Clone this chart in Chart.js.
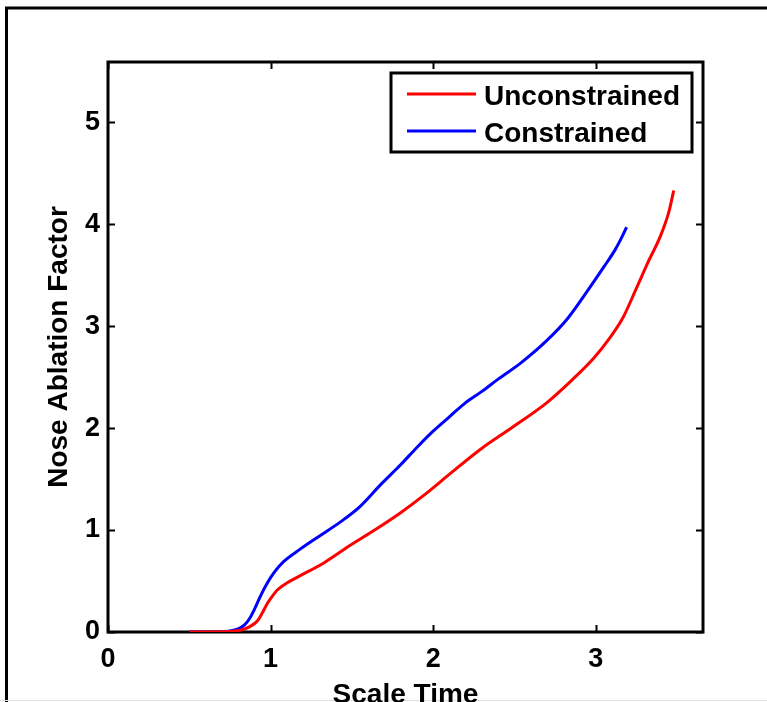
<!DOCTYPE html>
<html>
<head>
<meta charset="utf-8">
<script src="https://cdn.jsdelivr.net/npm/chart.js@4/dist/chart.umd.min.js"></script>
<style>
  html, body { margin: 0; padding: 0; background: #fff; overflow: hidden; }
  #wrap { width: 767px; height: 702px; }
</style>
</head>
<body>
<div id="wrap"><canvas id="ablation-chart" width="767" height="702"></canvas></div>
<script>
// values
var seriesNames = ["Unconstrained", "Constrained"];
var seriesColors = ["#ff0000", "#0000ff"];

var unconTime = [0.50, 0.75, 0.82, 0.87, 0.92, 0.95, 0.98, 1.01, 1.04, 1.10, 1.18, 1.33, 1.49, 1.65, 1.80, 1.95, 2.11, 2.29, 2.49, 2.70, 2.86, 2.99, 3.08, 3.17, 3.25, 3.32, 3.40, 3.45, 3.48];
var unconAbl  = [0.00, 0.005, 0.02, 0.05, 0.11, 0.19, 0.28, 0.35, 0.41, 0.48, 0.55, 0.68, 0.85, 1.01, 1.17, 1.35, 1.56, 1.79, 2.01, 2.25, 2.48, 2.69, 2.87, 3.09, 3.37, 3.62, 3.89, 4.12, 4.33];

var conTime = [0.50, 0.65, 0.75, 0.80, 0.84, 0.87, 0.90, 0.94, 0.98, 1.02, 1.08, 1.18, 1.29, 1.43, 1.55, 1.68, 1.80, 1.90, 2.00, 2.10, 2.20, 2.30, 2.40, 2.54, 2.70, 2.83, 2.96, 3.05, 3.12, 3.16, 3.19];
var conAbl  = [0.00, 0.00, 0.01, 0.03, 0.07, 0.13, 0.22, 0.36, 0.48, 0.58, 0.69, 0.81, 0.93, 1.08, 1.23, 1.45, 1.64, 1.81, 1.97, 2.11, 2.25, 2.36, 2.48, 2.64, 2.86, 3.08, 3.37, 3.58, 3.75, 3.87, 3.97];

var xTicks = [0, 1, 2, 3];
var yTicks = [0, 1, 2, 3, 4, 5];

var fontFamily = "'Liberation Sans', Arial, Helvetica, sans-serif";

function toPoints(xs, ys) {
    var pts = [];
    for (var i = 0; i < xs.length; i++) {
        pts.push({ x: xs[i], y: ys[i] });
    }
    return pts;
}

// white page, outer figure border, axes box, inward ticks and boxed legend
var framePlugin = {
    id: 'frame',
    beforeDraw: function (chart) {
        var ctx = chart.ctx;
        ctx.save();
        ctx.fillStyle = '#fff';
        ctx.fillRect(0, 0, chart.width, chart.height);
        ctx.strokeStyle = '#000';
        ctx.lineWidth = 3;
        ctx.beginPath();
        ctx.moveTo(6.5, chart.height);
        ctx.lineTo(6.5, 8);
        ctx.lineTo(chart.width, 8);
        ctx.stroke();
        ctx.strokeStyle = '#e0e0e0';
        ctx.lineWidth = 1;
        ctx.beginPath();
        ctx.moveTo(0, 700.5);
        ctx.lineTo(chart.width, 700.5);
        ctx.stroke();
        ctx.restore();
    },
    beforeDatasetsDraw: function (chart) {
        var ctx = chart.ctx;
        var a = chart.chartArea;
        var xs = chart.scales.x, ys = chart.scales.y;
        ctx.save();
        ctx.strokeStyle = '#000';
        ctx.lineWidth = 3;
        ctx.strokeRect(a.left, a.top, a.right - a.left, a.bottom - a.top);
        ctx.lineWidth = 2;
        ctx.beginPath();
        xTicks.forEach(function (v) {
            var px = Math.round(xs.getPixelForValue(v)) + 0.5;
            ctx.moveTo(px, a.bottom); ctx.lineTo(px, a.bottom - 7);
            ctx.moveTo(px, a.top); ctx.lineTo(px, a.top + 7);
        });
        yTicks.forEach(function (v) {
            var py = Math.round(ys.getPixelForValue(v)) + 0.5;
            ctx.moveTo(a.left, py); ctx.lineTo(a.left + 7, py);
            ctx.moveTo(a.right, py); ctx.lineTo(a.right - 7, py);
        });
        ctx.stroke();
        ctx.restore();
    },
    afterDatasetsDraw: function (chart) {
        var ctx = chart.ctx;
        var box = { left: 391, top: 73, right: 692, bottom: 152 };
        ctx.save();
        ctx.fillStyle = '#fff';
        ctx.fillRect(box.left, box.top, box.right - box.left, box.bottom - box.top);
        ctx.strokeStyle = '#000';
        ctx.lineWidth = 3;
        ctx.strokeRect(box.left, box.top, box.right - box.left, box.bottom - box.top);
        ctx.font = 'bold 28px ' + fontFamily;
        ctx.textBaseline = 'middle';
        ctx.textAlign = 'left';
        chart.data.datasets.forEach(function (ds, i) {
            var y = 94 + i * 37;
            ctx.strokeStyle = ds.borderColor;
            ctx.lineWidth = 3;
            ctx.beginPath();
            ctx.moveTo(407, y);
            ctx.lineTo(476, y);
            ctx.stroke();
            ctx.fillStyle = '#000';
            ctx.fillText(ds.label, 484, y + 3);
        });
        ctx.restore();
    }
};

var ctx = document.getElementById('ablation-chart').getContext('2d');
var myChart = new Chart(ctx, {
    type: 'line',
    data: {
        datasets: [
            {
                label: seriesNames[0],
                data: toPoints(unconTime, unconAbl),
                borderColor: seriesColors[0],
                borderWidth: 3,
                pointRadius: 0,
                fill: false,
                cubicInterpolationMode: 'monotone'
            },
            {
                label: seriesNames[1],
                data: toPoints(conTime, conAbl),
                borderColor: seriesColors[1],
                borderWidth: 3,
                pointRadius: 0,
                fill: false,
                cubicInterpolationMode: 'monotone'
            }
        ]
    },
    options: {
        responsive: false,
        animation: false,
        events: [],
        layout: {
            padding: { top: 62, right: 64, left: 0, bottom: 0 }
        },
        plugins: {
            legend: { display: false },
            tooltip: { enabled: false }
        },
        scales: {
            x: {
                type: 'linear',
                min: 0,
                max: 3.66,
                afterBuildTicks: function (scale) {
                    scale.ticks = xTicks.map(function (v) { return { value: v }; });
                },
                afterFit: function (scale) { scale.height = 70; },
                grid: { display: false, drawTicks: false },
                border: { display: false },
                ticks: {
                    color: '#000',
                    padding: 11,
                    maxRotation: 0,
                    font: { family: fontFamily, size: 27, weight: 'bold' }
                },
                title: {
                    display: true,
                    text: 'Scale Time',
                    color: '#000',
                    padding: { top: 0, bottom: -10 },
                    font: { family: fontFamily, size: 28, weight: 'bold' }
                }
            },
            y: {
                type: 'linear',
                min: 0,
                max: 5.59,
                afterBuildTicks: function (scale) {
                    scale.ticks = yTicks.map(function (v) { return { value: v }; });
                },
                afterFit: function (scale) { scale.width = 108; },
                grid: { display: false, drawTicks: false },
                border: { display: false },
                ticks: {
                    color: '#000',
                    padding: 8,
                    font: { family: fontFamily, size: 27, weight: 'bold' }
                },
                title: {
                    display: true,
                    text: 'Nose Ablation Factor',
                    color: '#000',
                    padding: { top: 42, bottom: 0 },
                    font: { family: fontFamily, size: 28, weight: 'bold' }
                }
            }
        }
    },
    plugins: [framePlugin]
});
</script>
</body>
</html>
